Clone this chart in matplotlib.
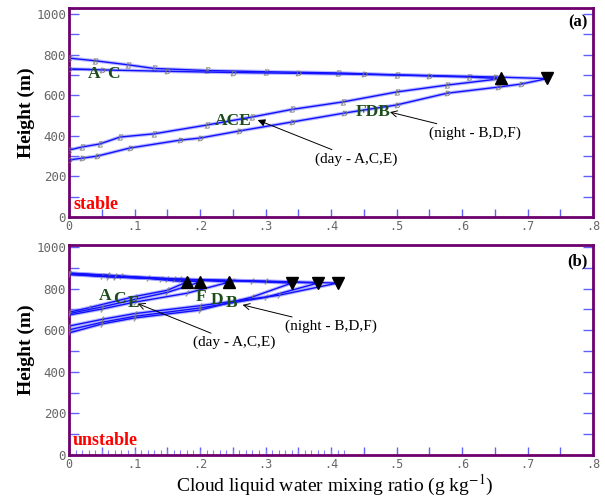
import matplotlib
matplotlib.use('Agg')
import matplotlib.pyplot as plt
from matplotlib.ticker import MultipleLocator, FuncFormatter

plt.rcParams['mathtext.fontset'] = 'stix'

# ---- donnees ----
# panneau (a) : cas stable
day_a_q = [0, 0.02, 0.047, 0.078, 0.13, 0.21, 0.28, 0.34, 0.418, 0.5, 0.577, 0.66,
           0.61, 0.5, 0.41, 0.3, 0.21, 0.13, 0.09, 0.04, 0]
day_a_h = [330, 345, 360, 394, 410, 453, 493, 530, 567, 616, 650, 682,
           690, 700, 710, 716, 722, 732, 750, 770, 783]
night_a_q = [0, 0.02, 0.043, 0.093, 0.17, 0.2, 0.26, 0.34, 0.42, 0.5, 0.577, 0.655, 0.69, 0.73,
             0.65, 0.55, 0.45, 0.35, 0.25, 0.15, 0.05, 0]
night_a_h = [281, 290, 300, 340, 379, 389, 424, 468, 512, 552, 610, 640, 655, 682,
             690, 697, 703, 708, 712, 718, 725, 730]
max_day_a = [0.66]
max_night_a = [0.73]
zmax_a = [685]

# panneau (b) : cas instable
day_b = {
    'A': ([0, 0.03, 0.1, 0.15, 0.18, 0.12, 0.06, 0], [687, 708, 762, 792, 832, 850, 864, 875]),
    'C': ([0, 0.05, 0.1, 0.15, 0.2, 0.14, 0.07, 0], [680, 712, 748, 782, 832, 848, 862, 874]),
    'E': ([0, 0.05, 0.1, 0.18, 0.245, 0.17, 0.08, 0], [673, 702, 735, 778, 832, 846, 860, 872]),
}
night_b = {
    'B': ([0, 0.05, 0.1, 0.2, 0.28, 0.34, 0.25, 0.15, 0.05, 0], [587, 630, 659, 697, 760, 827, 838, 846, 860, 872]),
    'D': ([0, 0.05, 0.1, 0.2, 0.3, 0.38, 0.28, 0.16, 0.06, 0], [602, 638, 667, 707, 758, 827, 837, 845, 858, 870]),
    'F': ([0, 0.05, 0.1, 0.2, 0.32, 0.41, 0.3, 0.18, 0.07, 0], [620, 652, 680, 718, 768, 827, 836, 844, 856, 868]),
}
max_day_b = [0.18, 0.2, 0.245]
max_night_b = [0.34, 0.38, 0.41]
zmax_b = [832, 832, 832]
zmin_b = [827, 827, 827]
# petits traits au sol, panneau (b)
sol_b = [0.01, 0.02, 0.03, 0.04, 0.05, 0.06, 0.07, 0.08, 0.09, 0.10, 0.11, 0.12, 0.13, 0.14,
         0.15, 0.16, 0.17, 0.18, 0.19, 0.20, 0.21, 0.22, 0.23, 0.24, 0.25, 0.26, 0.27, 0.28,
         0.29, 0.30, 0.31, 0.32, 0.33, 0.34, 0.35, 0.36, 0.37, 0.38, 0.39, 0.40, 0.41, 0.42]

xticks = [0, 0.1, 0.2, 0.3, 0.4, 0.5, 0.6, 0.7, 0.8]
xticklabels = ['0', '.1', '.2', '.3', '.4', '.5', '.6', '.7', '.8']

serif = ['Liberation Serif', 'DejaVu Serif']
mono = ['DejaVu Sans Mono']
purple = '#6e006e'
tickblue = '#6060ff'
green = '#1a4d1a'


def profil(ax, q, h, m):
    ax.plot(q, h, color='#9090ff', lw=2.6, alpha=0.6, zorder=2)
    ax.plot(q, h, color='#1010ff', lw=1.0, zorder=3,
            marker=m, ms=4, mfc='#777777', mec='#777777', mew=0.2)


def habillage(ax, ymax):
    ax.set_xlim(0, 0.8)
    ax.set_ylim(0, ymax)
    for s in ax.spines.values():
        s.set_color(purple)
        s.set_linewidth(2)
    ax.set_xticks(xticks)
    ax.set_xticklabels(xticklabels, family=mono, color='#666666', fontsize=8.5)
    ax.xaxis.set_minor_locator(MultipleLocator(0.05))
    ax.yaxis.set_major_locator(MultipleLocator(200))
    ax.yaxis.set_minor_locator(MultipleLocator(100))
    ax.yaxis.set_major_formatter(FuncFormatter(lambda v, p: '%d' % v))
    for lab in ax.get_yticklabels():
        lab.set_family(mono)
    ax.tick_params(axis='y', which='both', direction='in', length=7, width=1,
                   color=tickblue, left=True, right=True, labelsize=9,
                   labelcolor='#666666', pad=2)
    ax.tick_params(axis='x', which='both', direction='in', length=6, width=1,
                   color=tickblue, top=False, labelsize=8.5, labelcolor='#666666', pad=2)
    ax.set_ylabel('Height (m)', family=serif, fontsize=14, fontweight='bold', labelpad=1)


def lettre(ax, x, y, s):
    ax.text(x, y, s, family=serif, fontsize=12.5, fontweight='bold', color=green)


fig = plt.figure(figsize=(6.05, 4.96), dpi=100)
ax_a = fig.add_axes([69 / 605, 1 - 217 / 496, 524 / 605, 209 / 496])
ax_b = fig.add_axes([69 / 605, 1 - 455 / 496, 524 / 605, 210 / 496])

# ---- (a) stable ----
profil(ax_a, day_a_q, day_a_h, '$E$')
profil(ax_a, night_a_q, night_a_h, '$D$')
ax_a.plot([0, 0.03], [730, 730], color='#1010ff', lw=1)
ax_a.plot(max_day_a, zmax_a, '^', color='k', ms=9, zorder=5)
ax_a.plot(max_night_a, zmax_a, 'v', color='k', ms=9, zorder=5)
habillage(ax_a, 1030)
lettre(ax_a, 0.028, 683, 'A')
lettre(ax_a, 0.058, 683, 'C')
lettre(ax_a, 0.222, 452, 'ACE')
lettre(ax_a, 0.437, 500, 'FDB')
ax_a.annotate('(day - A,C,E)', xy=(0.288, 478), xytext=(0.375, 285),
              family=serif, fontsize=11, va='center',
              arrowprops=dict(arrowstyle='-|>', color='k', lw=0.7, shrinkA=0, shrinkB=0))
ax_a.annotate('(night - B,D,F)', xy=(0.49, 517), xytext=(0.55, 413),
              family=serif, fontsize=11, va='center',
              arrowprops=dict(arrowstyle='->', color='k', lw=0.7, shrinkA=0, shrinkB=0))
ax_a.text(0.99, 0.97, '(a)', transform=ax_a.transAxes, ha='right', va='top',
          family=serif, fontsize=12, fontweight='bold')
ax_a.text(0.008, 0.02, 'stable', transform=ax_a.transAxes, ha='left', va='bottom',
          family=serif, fontsize=13, fontweight='bold', color='red')

# ---- (b) instable ----
for k in day_b:
    q, h = day_b[k]
    profil(ax_b, q, h, '$f$')
for k in night_b:
    q, h = night_b[k]
    profil(ax_b, q, h, '$f$')
ax_b.plot(max_day_b, zmax_b, '^', color='k', ms=9, zorder=5)
ax_b.plot(max_night_b, zmin_b, 'v', color='k', ms=9, zorder=5)
ax_b.plot(sol_b, [12] * len(sol_b), '|', color='#8080ff', ms=5, mew=0.8, zorder=2)
habillage(ax_b, 1010)
lettre(ax_b, 0.045, 745, 'A')
lettre(ax_b, 0.068, 730, 'C')
lettre(ax_b, 0.09, 712, 'E')
lettre(ax_b, 0.193, 740, 'F')
lettre(ax_b, 0.216, 725, 'D')
lettre(ax_b, 0.24, 710, 'B')
ax_b.annotate('(day - A,C,E)', xy=(0.105, 728), xytext=(0.19, 540),
              family=serif, fontsize=11, va='center',
              arrowprops=dict(arrowstyle='->', color='k', lw=0.7, shrinkA=0, shrinkB=0))
ax_b.annotate('(night - B,D,F)', xy=(0.265, 722), xytext=(0.33, 618),
              family=serif, fontsize=11, va='center',
              arrowprops=dict(arrowstyle='->', color='k', lw=0.7, shrinkA=0, shrinkB=0))
ax_b.text(0.99, 0.96, '(b)', transform=ax_b.transAxes, ha='right', va='top',
          family=serif, fontsize=12, fontweight='bold')
ax_b.text(0.008, 0.03, 'unstable', transform=ax_b.transAxes, ha='left', va='bottom',
          family=serif, fontsize=13, fontweight='bold', color='red')
fig.text(0.553, 1 - 491 / 496, 'Cloud liquid water mixing ratio (g kg$^{-1}$)',
         family=serif, fontsize=14, ha='center', va='baseline')

fig.savefig('out.png', dpi=100)
